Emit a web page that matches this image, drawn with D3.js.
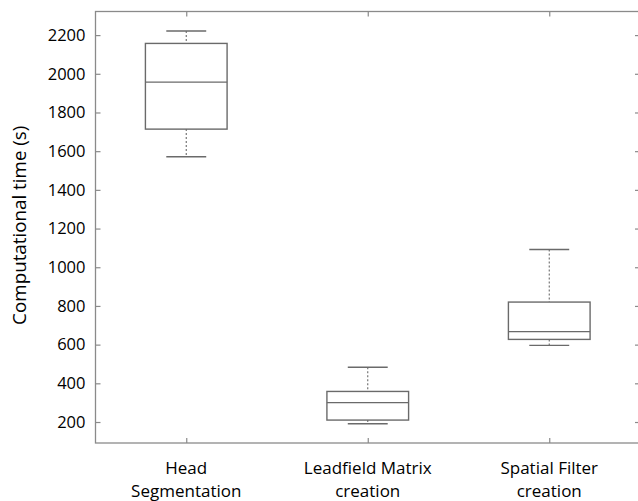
<!DOCTYPE html>
<html>
<head>
<meta charset="utf-8">
<script src="https://cdn.jsdelivr.net/npm/d3@7"></script>
<style>
  html, body { margin: 0; padding: 0; background: #fff; overflow: hidden; }
  svg { display: block; }
  text { font-family: "Open Sans", sans-serif; fill: #000; }
</style>
</head>
<body>
<svg id="chart" width="638" height="501"></svg>
<script>
// Processing stages and their run-time distributions (seconds)
const categories = ["Head\nSegmentation", "Leadfield Matrix\ncreation", "Spatial Filter\ncreation"];
const whiskerLow  = [1571, 191, 596];
const q1          = [1714, 210, 627];
const median      = [1957, 300, 667];
const q3          = [2157, 358, 820];
const whiskerHigh = [2221, 483, 1092];
const yTicks = [200, 400, 600, 800, 1000, 1200, 1400, 1600, 1800, 2000, 2200];

const stats = categories.map((c, i) => ({
  name: c, idx: i + 1,
  lo: whiskerLow[i], q1: q1[i], med: median[i], q3: q3[i], hi: whiskerHigh[i]
}));

const svg = d3.select("#chart");
const margin = { left: 95.5, top: 11.5, bottom: 443 };
const plotRight = 640;

const x = d3.scaleLinear().domain([0.5, 3.5]).range([margin.left, plotRight]);
const y = d3.scaleLinear().domain([91.5, 2322]).range([margin.bottom, margin.top]);

const frameColor = "#8a8a8a";
const boxColor = "#6a6a6a";
const step = x(2) - x(1);
const boxW = step * 0.45;
const capW = step * 0.22;

// Frame with inward ticks on all four sides
const frame = svg.append("g");
frame.append("rect")
  .attr("x", margin.left).attr("y", margin.top)
  .attr("width", plotRight - margin.left).attr("height", margin.bottom - margin.top)
  .attr("fill", "none").attr("stroke", frameColor).attr("stroke-width", 1.3);

const yAxis = d3.axisLeft(y).tickValues(yTicks).tickSize(-5).tickPadding(10).tickFormat(d3.format("d"));
const gy = svg.append("g").attr("transform", `translate(${margin.left},0)`).call(yAxis);
gy.select(".domain").remove();
gy.selectAll(".tick line").attr("stroke", frameColor).attr("stroke-width", 1.2);
gy.selectAll(".tick text").attr("font-size", 16.5).attr("fill", "#000")
  .attr("font-family", "'Open Sans', sans-serif");

const yRight = d3.axisRight(y).tickValues(yTicks).tickSize(-5).tickFormat("");
const gyr = svg.append("g").attr("transform", `translate(${plotRight},0)`).call(yRight);
gyr.select(".domain").remove();
gyr.selectAll(".tick line").attr("stroke", frameColor).attr("stroke-width", 1.2);

const xBottom = d3.axisBottom(x).tickValues([1, 2, 3]).tickSize(-5).tickFormat("");
const gxb = svg.append("g").attr("transform", `translate(0,${margin.bottom})`).call(xBottom);
gxb.select(".domain").remove();
gxb.selectAll(".tick line").attr("stroke", frameColor).attr("stroke-width", 1.2);

const xTop = d3.axisTop(x).tickValues([1, 2, 3]).tickSize(-5).tickFormat("");
const gxt = svg.append("g").attr("transform", `translate(0,${margin.top})`).call(xTop);
gxt.select(".domain").remove();
gxt.selectAll(".tick line").attr("stroke", frameColor).attr("stroke-width", 1.2);

// Category labels (two lines each)
const labels = svg.append("g");
stats.forEach(d => {
  const t = labels.append("text")
    .attr("text-anchor", "middle")
    .attr("font-size", 17);
  d.name.split("\n").forEach((line, k) => {
    t.append("tspan").attr("x", x(d.idx)).attr("y", 474 + k * 23).text(line);
  });
});

// Y axis title
svg.append("text")
  .attr("transform", `translate(26,${(margin.top + margin.bottom) / 2 - 2}) rotate(-90)`)
  .attr("text-anchor", "middle")
  .attr("font-size", 18.8)
  .text("Computational time (s)");

// Box plots
const boxes = svg.append("g").selectAll("g").data(stats).join("g");

boxes.append("line")
  .attr("x1", d => x(d.idx)).attr("x2", d => x(d.idx))
  .attr("y1", d => y(d.hi)).attr("y2", d => y(d.q3))
  .attr("stroke", boxColor).attr("stroke-width", 1.1).attr("stroke-dasharray", "2,2");
boxes.append("line")
  .attr("x1", d => x(d.idx)).attr("x2", d => x(d.idx))
  .attr("y1", d => y(d.q1)).attr("y2", d => y(d.lo))
  .attr("stroke", boxColor).attr("stroke-width", 1.1).attr("stroke-dasharray", "2,2");

boxes.append("line")
  .attr("x1", d => x(d.idx) - capW / 2).attr("x2", d => x(d.idx) + capW / 2)
  .attr("y1", d => y(d.hi)).attr("y2", d => y(d.hi))
  .attr("stroke", boxColor).attr("stroke-width", 1.4);
boxes.append("line")
  .attr("x1", d => x(d.idx) - capW / 2).attr("x2", d => x(d.idx) + capW / 2)
  .attr("y1", d => y(d.lo)).attr("y2", d => y(d.lo))
  .attr("stroke", boxColor).attr("stroke-width", 1.4);

boxes.append("rect")
  .attr("x", d => x(d.idx) - boxW / 2).attr("width", boxW)
  .attr("y", d => y(d.q3)).attr("height", d => y(d.q1) - y(d.q3))
  .attr("fill", "none").attr("stroke", boxColor).attr("stroke-width", 1.4);

boxes.append("line")
  .attr("x1", d => x(d.idx) - boxW / 2).attr("x2", d => x(d.idx) + boxW / 2)
  .attr("y1", d => y(d.med)).attr("y2", d => y(d.med))
  .attr("stroke", boxColor).attr("stroke-width", 1.4);
</script>
</body>
</html>
